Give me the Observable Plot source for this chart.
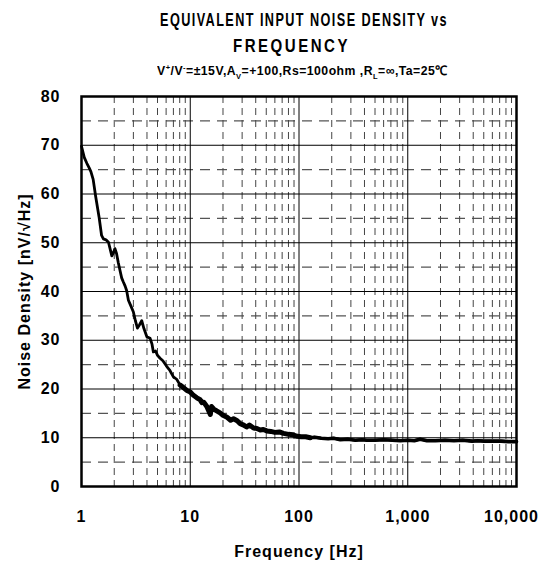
<!DOCTYPE html>
<html><head><meta charset="utf-8">
<script src="https://cdn.jsdelivr.net/npm/d3@7"></script>
<script src="https://cdn.jsdelivr.net/npm/@observablehq/plot@0.6"></script>
<style>
body{margin:0;background:#fff;}
#wrap{position:relative;width:543px;height:565px;font-family:"Liberation Sans",Arial,sans-serif;font-weight:bold;color:#000;}
.ln{position:absolute;white-space:nowrap;line-height:1;transform-origin:0 0;}
#t1{top:11px;font-size:18px;letter-spacing:2px;}
#t2{top:37px;font-size:18px;letter-spacing:3px;}
#sub{top:64px;font-size:13px;letter-spacing:0.5px;}
#sub sup,#sub sub{font-size:8px;}
#chart{position:absolute;top:80px;left:0;}
</style></head>
<body>
<div id="wrap">
  <div class="ln" id="t1">EQUIVALENT INPUT NOISE DENSITY vs</div>
  <div class="ln" id="t2">FREQUENCY</div>
  <div class="ln" id="sub">V<sup>+</sup>/V<sup>-</sup>=±15V,A<sub>V</sub>=+100,Rs=100ohm ,R<sub>L</sub>=∞,Ta=25℃</div>
  <div id="chart"></div>
</div>
<script>
const freqHz = [1, 1.06, 1.12, 1.18, 1.22, 1.28, 1.35, 1.45, 1.53, 1.59, 1.68, 1.77, 1.84, 1.9, 1.97, 2.03, 2.1, 2.18, 2.26, 2.34, 2.42, 2.52, 2.6, 2.7, 2.85, 3.0, 3.13, 3.27, 3.42, 3.58, 3.75, 3.99, 4.27, 4.45, 4.58, 4.8, 5.0, 5.28, 5.6, 6.09, 6.5, 7.0, 7.5, 8.07, 8.65, 9.3, 10, 10.7, 11.5, 12.3, 12.8, 13.3, 14.2, 15.3, 15.7, 16.4, 17.5, 18.8, 20, 21.8, 23.5, 25, 27, 28.8, 31, 33, 35, 38.2, 41, 44, 47, 50.6, 55, 60, 66, 72, 80, 88, 96, 105, 115, 127, 140, 160, 185, 208, 240, 280, 330, 380, 420, 500, 600, 720, 855, 1000, 1150, 1300, 1500, 1800, 2200, 2660, 3200, 3900, 4400, 5040, 6000, 7200, 8500, 10000];
const noiseDensity = [69.8, 67.5, 66.3, 65.3, 64.6, 63.0, 59.5, 55.3, 51.5, 50.8, 50.6, 50.1, 48.6, 47.3, 48.0, 48.8, 47.8, 45.9, 44.3, 42.8, 42.0, 41.1, 40.2, 38.2, 37.0, 35.8, 34.0, 32.5, 33.2, 34.0, 32.4, 30.7, 30.4, 29.2, 27.6, 27.8, 26.9, 26.3, 25.8, 24.6, 23.8, 22.5, 22.0, 20.8, 20.3, 19.7, 19.4, 18.7, 18.2, 17.8, 17.2, 17.3, 16.4, 14.8, 16.4, 15.9, 15.5, 15.1, 14.6, 14.2, 13.6, 13.9, 13.5, 12.9, 12.6, 12.2, 12.6, 12.0, 11.9, 11.6, 11.7, 11.4, 11.3, 11.1, 11.2, 10.9, 10.7, 10.6, 10.3, 10.2, 10.2, 10.0, 10.1, 9.9, 9.8, 9.9, 9.6, 9.7, 9.5, 9.6, 9.5, 9.5, 9.6, 9.5, 9.4, 9.5, 9.4, 9.7, 9.4, 9.4, 9.5, 9.4, 9.5, 9.3, 9.4, 9.3, 9.3, 9.3, 9.2, 9.2];
const yMajor = [0, 10, 20, 30, 40, 50, 60, 70, 80];
const yMinor = [5, 15, 25, 35, 45, 55, 65, 75];
const xMajor = [1, 10, 100, 1000, 10000];
const xTickLabels = ["1", "10", "100", "1,000", "10,000"];
const xMinor = [2,3,4,5,6,7,8,9,20,30,40,50,60,70,80,90,200,300,400,500,600,700,800,900,2000,3000,4000,5000,6000,7000,8000,9000];
const yLabel = "Noise Density [nV/√Hz]";
const xLabel = "Frequency [Hz]";

// fit title lines to the reference's horizontal extents (layout only)
function fit(id, left, width) {
  const el = document.getElementById(id);
  const w = el.getBoundingClientRect().width;
  el.style.left = left + "px";
  el.style.transform = `scaleX(${width / w})`;
}
fit("t1", 160, 288);
fit("t2", 233, 117);
fit("sub", 157, 291);

const data = freqHz.map((f, i) => ({f, v: noiseDensity[i]}));
const FONT = '"Liberation Sans",Arial,sans-serif';
const fmt = d => xTickLabels[xMajor.indexOf(d)];

const chart = Plot.plot({
  width: 543, height: 485,
  marginTop: 16, marginLeft: 81, marginRight: 27, marginBottom: 79,
  style: {fontFamily: FONT, fontWeight: "bold", fontSize: "16px", background: "white", color: "black", letterSpacing: "1px"},
  x: {type: "log", domain: [1, 10000]},
  y: {domain: [0, 80]},
  marks: [
    Plot.ruleY(yMinor, {stroke: "#555", strokeWidth: 1.2, strokeDasharray: "10,7"}),
    Plot.ruleX(xMinor, {stroke: "#444", strokeWidth: 1, strokeDasharray: "7,5"}),
    Plot.ruleY(yMajor, {stroke: "black", strokeWidth: 1}),
    Plot.ruleX(xMajor, {stroke: "black", strokeWidth: 1}),
    Plot.line(data, {x: "f", y: "v", stroke: "black", strokeWidth: 2.8, strokeLinejoin: "round"}),
    // measured trace is a noisy band above ~8 Hz: render it thicker there
    Plot.line(data, {filter: d => d.f >= 8 && d.f <= 130, x: "f", y: "v", stroke: "black", strokeWidth: 5, strokeLinejoin: "round"}),
    Plot.line(data, {filter: d => d.f >= 120, x: "f", y: "v", stroke: "black", strokeWidth: 3.6, strokeLinejoin: "round"}),
    Plot.frame({stroke: "black", strokeWidth: 2.5}),
    Plot.axisX(xMajor.slice(0, 4), {tickSize: 0, tickPadding: 24, tickFormat: fmt, label: xLabel, labelAnchor: "center", labelOffset: 70, labelArrow: "none"}),
    Plot.axisX(xMajor.slice(4), {tickSize: 0, tickPadding: 24, tickFormat: fmt, dx: -5, label: null}),
    Plot.axisY(yMajor, {tickSize: 0, tickPadding: 21, label: yLabel, labelAnchor: "center", labelOffset: 63, labelArrow: "none"})
  ]
});
document.getElementById("chart").appendChild(chart);
</script>
</body></html>
